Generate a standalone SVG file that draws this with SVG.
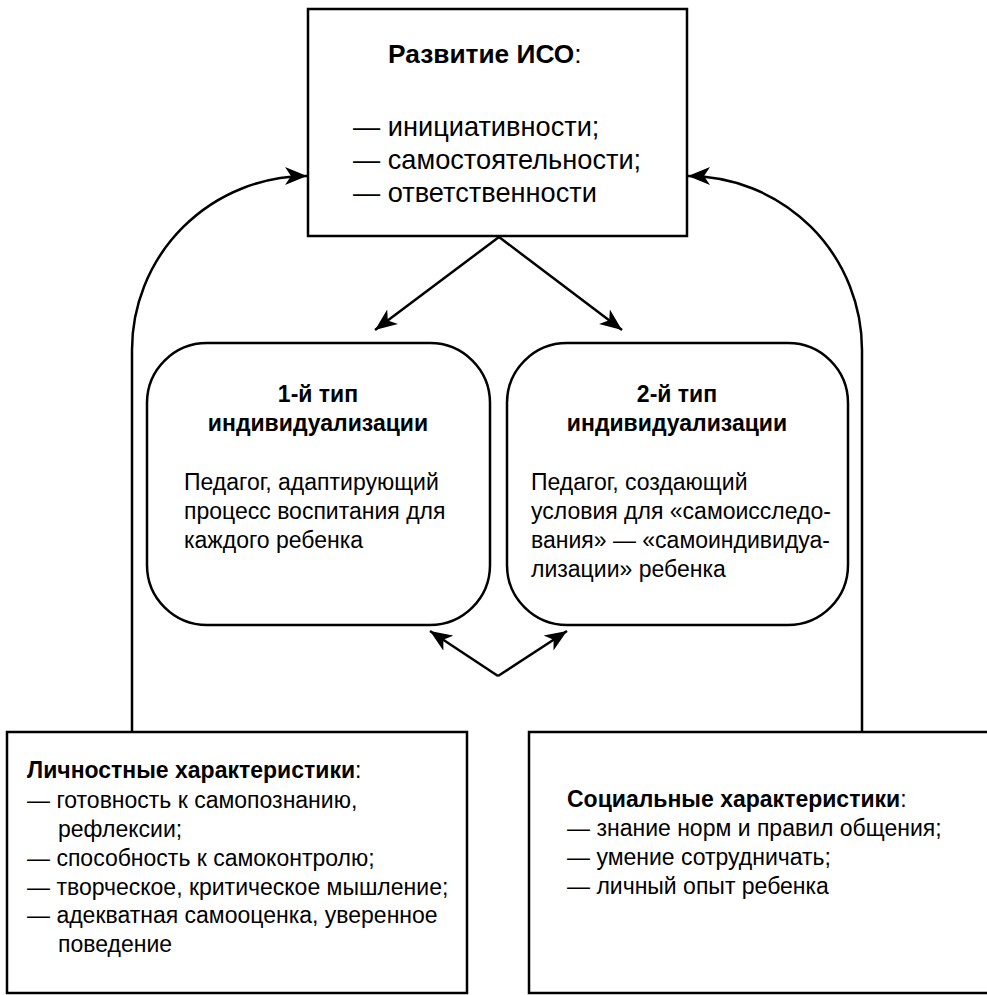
<svg xmlns="http://www.w3.org/2000/svg" width="987" height="995" viewBox="0 0 987 995">
<style>
.box{fill:#fff;stroke:#000;stroke-width:2.5}
.conn{fill:none;stroke:#000;stroke-width:2.5}
text{font-family:"Liberation Sans",Arial,sans-serif;fill:#000}
.t{font-size:27.2px}
.th{font-size:26.3px;font-weight:bold}
.h{font-size:23px;font-weight:bold}
.b{font-size:23px}
.s{font-size:23px}
.sb{font-size:23px;font-weight:bold}
</style>
<defs>
<marker id="arr" markerUnits="userSpaceOnUse" markerWidth="24" markerHeight="20" viewBox="0 0 24 20" refX="22" refY="10" orient="auto">
<path d="M0,1 L22,10 L0,19 L6,10 z" fill="#000"/>
</marker>
</defs>
<rect width="987" height="995" fill="#fff"/>
<g id="connectors">
<path class="conn" d="M132,732 L132,350 A175,174 0 0 1 307,176" marker-end="url(#arr)"/>
<path class="conn" d="M862,732 L862,350 A174,174 0 0 0 688,176" marker-end="url(#arr)"/>
<path class="conn" d="M499,237 L375,330" marker-end="url(#arr)"/>
<path class="conn" d="M499,237 L622,330" marker-end="url(#arr)"/>
<path class="conn" d="M498,676 L430,631" marker-end="url(#arr)"/>
<path class="conn" d="M498,676 L567,631" marker-end="url(#arr)"/>
</g>
<g id="top">
<rect class="box" x="308" y="9" width="379" height="227"/>
<text class="th" x="388" y="63">Развитие ИСО<tspan font-weight="normal">:</tspan></text>
<text class="t" x="353" y="136">— инициативности;</text>
<text class="t" x="353" y="169">— самостоятельности;</text>
<text class="t" x="353" y="202">— ответственности</text>
</g>
<g id="type1">
<rect class="box" x="147" y="343" width="343" height="282" rx="60"/>
<text class="h" x="318" y="402" text-anchor="middle">1-й тип</text>
<text class="h" x="318" y="431" text-anchor="middle">индивидуализации</text>
<text class="b" x="184" y="490">Педагог, адаптирующий</text>
<text class="b" x="184" y="519">процесс воспитания для</text>
<text class="b" x="184" y="548">каждого ребенка</text>
</g>
<g id="type2">
<rect class="box" x="507" y="343" width="341" height="282" rx="60"/>
<text class="h" x="677" y="402" text-anchor="middle">2-й тип</text>
<text class="h" x="677" y="431" text-anchor="middle">индивидуализации</text>
<text class="b" x="531" y="490">Педагог, создающий</text>
<text class="b" x="531" y="519">условия для «самоисследо-</text>
<text class="b" x="531" y="548">вания» — «самоиндивидуа-</text>
<text class="b" x="531" y="577">лизации» ребенка</text>
</g>
<g id="personal">
<rect class="box" x="7" y="732" width="460" height="261"/>
<text class="sb" x="27" y="778">Личностные характеристики<tspan font-weight="normal">:</tspan></text>
<text class="s" x="27" y="808">— готовность к самопознанию,</text>
<text class="s" x="58" y="837">рефлексии;</text>
<text class="s" x="27" y="866">— способность к самоконтролю;</text>
<text class="s" x="27" y="895">— творческое, критическое мышление;</text>
<text class="s" x="27" y="923">— адекватная самооценка, уверенное</text>
<text class="s" x="58" y="952">поведение</text>
</g>
<g id="social">
<rect class="box" x="529" y="732" width="462" height="261"/>
<text class="sb" x="567" y="807">Социальные характеристики<tspan font-weight="normal">:</tspan></text>
<text class="s" x="567" y="836">— знание норм и правил общения;</text>
<text class="s" x="567" y="865">— умение сотрудничать;</text>
<text class="s" x="567" y="894">— личный опыт ребенка</text>
</g>
</svg>
